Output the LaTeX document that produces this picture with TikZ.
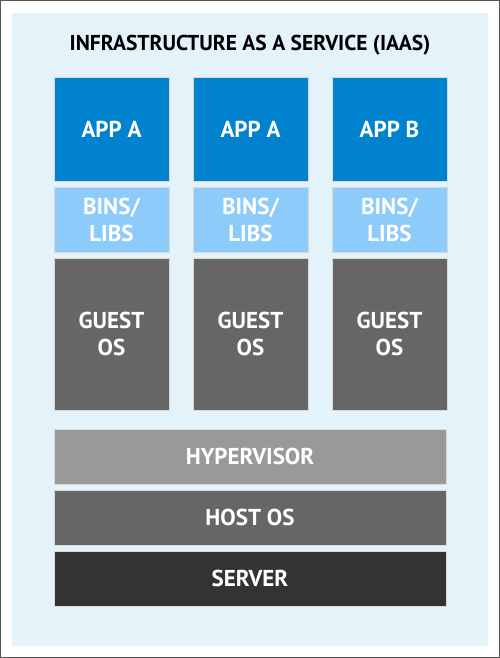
\documentclass[tikz,border=0pt]{standalone}
\usepackage{fontspec}
\setmainfont{PT Sans}
\definecolor{panel}{HTML}{E4F2FA}
\definecolor{appblue}{HTML}{0082CF}
\definecolor{libblue}{HTML}{8CCBFA}
\definecolor{guestgray}{HTML}{666666}
\definecolor{hypgray}{HTML}{999999}
\definecolor{servergray}{HTML}{333333}
\definecolor{framegray}{HTML}{555555}
\begin{document}
\begin{tikzpicture}[x=1pt,y=-1pt,
  blk/.style={inner sep=0pt, outer sep=0pt, draw=white!70!gray, line width=0.4pt, text=white,
    font=\bfseries\fontsize{23}{27}\selectfont, align=center},
  colblk/.style={blk, minimum width=115pt},
  wideblk/.style={blk, minimum width=392pt, minimum height=55pt},
  title/.style={font=\bfseries\fontsize{21.5}{24}\selectfont, text=black, inner sep=0pt}]
\useasboundingbox (0,0) rectangle (500,658);
\fill[white] (0,0) rectangle (500,658);
\draw[framegray, line width=1pt] (0.5,0.5) rectangle (499.5,657.5);
\fill[panel] (12,13) rectangle (488,646);
\node[title] (t) at (250,45) {INFRASTRUCTURE AS A SERVICE (IAAS)};
% columns
\node[colblk, fill=appblue, minimum height=104pt] (appA1) at (111.5,129) {APP A};
\node[colblk, fill=appblue, minimum height=104pt] (appA2) at (250.5,129) {APP A};
\node[colblk, fill=appblue, minimum height=104pt] (appB) at (389.5,129) {APP B};
\node[colblk, fill=libblue, minimum height=65pt] (lib1) at (111.5,219.5) {BINS/\\LIBS};
\node[colblk, fill=libblue, minimum height=65pt] (lib2) at (250.5,219.5) {BINS/\\LIBS};
\node[colblk, fill=libblue, minimum height=65pt] (lib3) at (389.5,219.5) {BINS/\\LIBS};
\node[colblk, fill=guestgray, minimum height=152pt] (os1) at (111.5,334) {GUEST\\OS};
\node[colblk, fill=guestgray, minimum height=152pt] (os2) at (250.5,334) {GUEST\\OS};
\node[colblk, fill=guestgray, minimum height=152pt] (os3) at (389.5,334) {GUEST\\OS};
% wide
\node[wideblk, fill=hypgray] (hyp) at (250,456.5) {HYPERVISOR};
\node[wideblk, fill=guestgray] (host) at (250,517.5) {HOST OS};
\node[wideblk, fill=servergray] (srv) at (250,578.5) {SERVER};
\end{tikzpicture}
\end{document}
